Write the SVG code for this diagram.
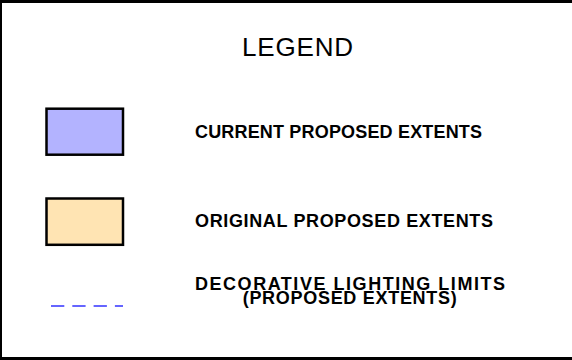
<svg xmlns="http://www.w3.org/2000/svg" width="572" height="360" viewBox="0 0 572 360">
<style>
.frame{stroke:#000;fill:none}
.sw{stroke:#000;stroke-width:2.5}
.lbl{font-family:"Liberation Sans",Arial,sans-serif;font-weight:bold;font-size:18px;fill:#000}
.title{font-family:"Liberation Sans",Arial,sans-serif;font-size:26px;fill:#000}
</style>
<rect width="572" height="360" fill="#fff"/>
<g id="frame">
<line class="frame" x1="0" y1="1.5" x2="572" y2="1.5" stroke-width="3"/>
<line class="frame" x1="1" y1="0" x2="1" y2="360" stroke-width="2"/>
<line class="frame" x1="0" y1="358.5" x2="572" y2="358.5" stroke-width="3"/>
</g>
<g id="title">
<text class="title" x="242" y="56" textLength="111" lengthAdjust="spacing">LEGEND</text>
</g>
<g id="current">
<rect class="sw" x="46.5" y="108.7" width="76.5" height="46" fill="#b3b3ff"/>
<text class="lbl" x="195" y="138.3" textLength="287" lengthAdjust="spacing">CURRENT PROPOSED EXTENTS</text>
</g>
<g id="original">
<rect class="sw" x="46.5" y="198.5" width="76.5" height="46.3" fill="#ffe4b3"/>
<text class="lbl" x="195" y="227.3" textLength="298" lengthAdjust="spacing">ORIGINAL PROPOSED EXTENTS</text>
</g>
<g id="lighting">
<line x1="51" y1="306" x2="123" y2="306" stroke="#3333ff" stroke-width="1.4" stroke-dasharray="13.3 8"/>
<text class="lbl" x="195" y="289.5" textLength="310" lengthAdjust="spacing">DECORATIVE LIGHTING LIMITS</text>
<text class="lbl" x="242.7" y="303.5" textLength="214" lengthAdjust="spacing">(PROPOSED EXTENTS)</text>
</g>
</svg>
